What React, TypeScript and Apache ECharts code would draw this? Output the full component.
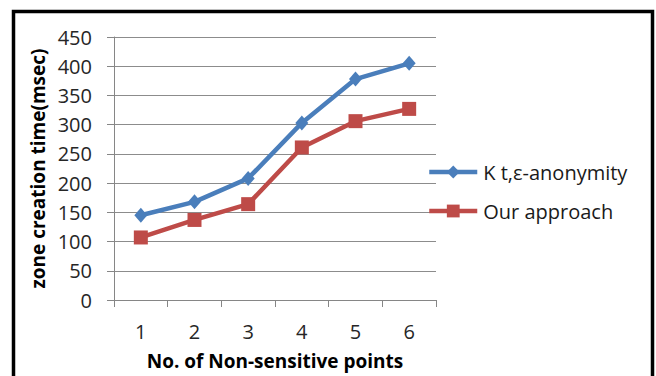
import React, { useEffect, useRef } from "react";
import * as echarts from "echarts";

// No. of non-sensitive points on the x axis
const categories = ["1", "2", "3", "4", "5", "6"];
// Zone creation time (msec) for each method
const kAnonymity = [145, 168, 208, 303, 378, 405];
const ourApproach = [107, 137, 164, 261, 306, 327];
const seriesNames = ["K t,ε-anonymity", "Our approach"];

const FONT = "'Open Sans', 'Liberation Sans', sans-serif";

export default function App() {
  const ref = useRef<HTMLDivElement>(null);

  useEffect(() => {
    if (!ref.current) return;
    const chart = echarts.init(ref.current, undefined, { renderer: "svg" });
    chart.setOption({
      animation: false,
      backgroundColor: "#ffffff",
      textStyle: { fontFamily: FONT },
      graphic: [
        {
          type: "rect",
          shape: { x: 13.5, y: 11.5, width: 639, height: 380 },
          style: { fill: "none", stroke: "#000000", lineWidth: 3.5 },
          silent: true,
        },
      ],
      grid: { left: 114, right: 220, top: 37, bottom: 76 },
      legend: {
        orient: "vertical",
        left: 422,
        top: 157,
        itemWidth: 48,
        itemHeight: 16,
        itemGap: 19,
        data: seriesNames,
        lineStyle: { width: 4.5 },
        textStyle: { fontFamily: FONT, fontSize: 20, color: "#1a1a1a", padding: [0, 0, 0, 1] },
      },
      xAxis: {
        type: "category",
        data: categories,
        boundaryGap: true,
        name: "No. of Non-sensitive points",
        nameLocation: "middle",
        nameGap: 51,
        nameTextStyle: { fontFamily: FONT, fontSize: 19, fontWeight: "bold", color: "#000" },
        axisLine: { lineStyle: { color: "#868686", width: 1 } },
        axisTick: { show: true, length: 7, inside: false, lineStyle: { color: "#868686" } },
        axisLabel: { fontFamily: FONT, fontSize: 20, color: "#262626", margin: 21 },
        splitLine: { show: false },
      },
      yAxis: {
        type: "value",
        min: 0,
        max: 450,
        interval: 50,
        name: "zone creation time(msec)",
        nameLocation: "middle",
        nameGap: 67,
        nameTextStyle: { fontFamily: FONT, fontSize: 19, fontWeight: "bold", color: "#000" },
        axisLine: { show: true, lineStyle: { color: "#868686", width: 1 } },
        axisTick: { show: true, length: 7, lineStyle: { color: "#868686" } },
        axisLabel: { fontFamily: FONT, fontSize: 20, color: "#262626", margin: 22 },
        splitLine: { show: true, lineStyle: { color: "#8c8c8c", width: 1 } },
      },
      series: [
        {
          name: seriesNames[0],
          type: "line",
          data: kAnonymity,
          symbol: "diamond",
          symbolSize: [13, 15],
          itemStyle: { color: "#4a7ebb" },
          lineStyle: { color: "#4a7ebb", width: 4.5 },
        },
        {
          name: seriesNames[1],
          type: "line",
          data: ourApproach,
          symbol: "rect",
          symbolSize: 14,
          itemStyle: { color: "#be4b48" },
          lineStyle: { color: "#be4b48", width: 4.5 },
        },
      ],
    });
    return () => chart.dispose();
  }, []);

  return (
    <div
      ref={ref}
      style={{ position: "fixed", left: 0, top: 0, width: 656, height: 376 }}
    />
  );
}
